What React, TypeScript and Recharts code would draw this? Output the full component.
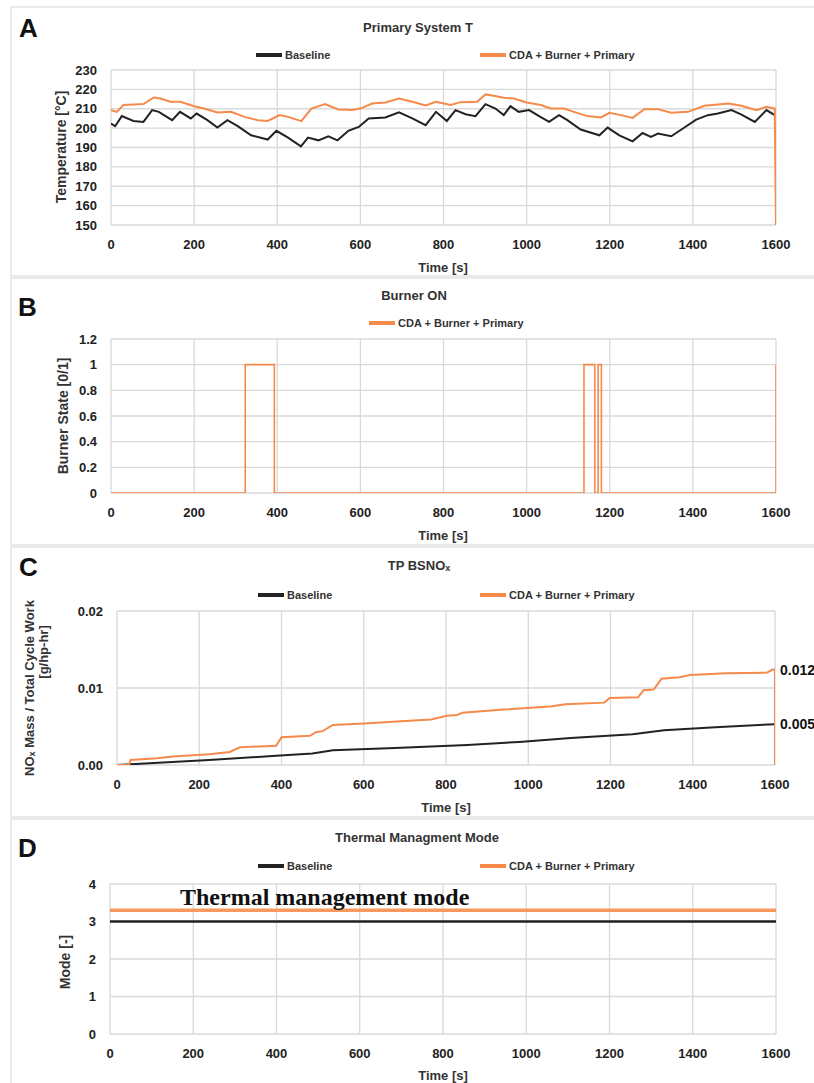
import { LineChart, Line, XAxis, YAxis, CartesianGrid, LabelList } from "recharts";

const timeTicks = [0, 200, 400, 600, 800, 1000, 1200, 1400, 1600];

// A - Primary System T  [time s, temperature °C]
const tempBaseline: [number, number][] = [
  [0, 202.4], [10, 201.0], [26, 206.2], [54, 203.7], [78, 203.2], [99, 209.3], [115, 208.4], [147, 204.1],
  [166, 208.4], [192, 205.0], [206, 207.5], [232, 204.1], [256, 200.3], [280, 204.1], [305, 201.0], [337, 196.3],
  [377, 194.1], [398, 198.6], [426, 195.1], [457, 190.6], [474, 195.1], [499, 193.7], [523, 195.8], [545, 193.7],
  [571, 198.6], [596, 200.6], [620, 205.0], [660, 205.5], [693, 208.1], [725, 205.0], [757, 201.5], [782, 208.4],
  [808, 203.7], [829, 209.3], [853, 207.2], [877, 206.2], [901, 212.4], [925, 210.1], [945, 206.7], [961, 211.3],
  [981, 208.4], [1006, 209.3], [1030, 206.2], [1054, 203.2], [1078, 206.7], [1098, 204.1], [1130, 199.3], [1175, 196.3],
  [1195, 200.3], [1223, 196.3], [1255, 193.2], [1279, 197.5], [1299, 195.5], [1316, 197.2], [1348, 195.8], [1376, 199.8],
  [1408, 204.4], [1436, 206.7], [1460, 207.5], [1493, 209.3], [1517, 207.0], [1549, 203.2], [1577, 209.3], [1597, 206.7],
];
const tempCda: [number, number][] = [
  [0, 209.3], [14, 208.4], [30, 211.9], [78, 212.4], [103, 215.8], [119, 215.3], [143, 213.6], [167, 213.6],
  [200, 211.3], [224, 210.1], [256, 208.1], [289, 208.4], [321, 205.8], [353, 204.1], [377, 203.7], [406, 206.7],
  [426, 205.8], [458, 203.6], [482, 210.1], [515, 212.4], [547, 209.6], [580, 209.3], [600, 210.1], [628, 212.7],
  [660, 213.2], [693, 215.3], [725, 213.6], [757, 211.7], [782, 213.6], [817, 211.9], [841, 213.4], [881, 213.6],
  [901, 217.4], [921, 216.7], [945, 215.7], [969, 215.3], [1000, 213.2], [1034, 211.9], [1058, 210.1], [1090, 210.1],
  [1114, 208.4], [1146, 206.2], [1179, 205.5], [1199, 207.9], [1227, 206.7], [1255, 205.3], [1283, 209.8], [1315, 209.8],
  [1348, 207.9], [1388, 208.4], [1428, 211.5], [1460, 212.2], [1485, 212.7], [1517, 211.5], [1553, 209.3], [1577, 211.0],
  [1597, 210.1], [1600, 150],
];

// B - burner state, value holds until next change
const burnerCda: [number, number][] = [
  [0, 0], [323, 1], [393, 0], [1138, 1], [1164, 0], [1172, 1], [1180, 0], [1600, 1],
];

// C - NOx mass / total cycle work [g/hp-hr]
const noxBaseline: [number, number][] = [
  [0, 0], [224, 0.00065], [387, 0.0012], [475, 0.0015], [525, 0.0019], [676, 0.0022], [852, 0.0026],
  [978, 0.003], [1103, 0.0035], [1254, 0.004], [1330, 0.0045], [1455, 0.0049], [1600, 0.0053],
];
const noxCda: [number, number][] = [
  [0, 0], [29, 0], [33, 0.00065], [98, 0.00087], [136, 0.0011], [224, 0.0014], [274, 0.0017], [299, 0.0023],
  [387, 0.0025], [400, 0.0036], [469, 0.0038], [485, 0.0043], [500, 0.0044], [525, 0.0052], [601, 0.0054],
  [701, 0.0057], [764, 0.0059], [802, 0.0064], [827, 0.0065], [840, 0.0068], [940, 0.0072], [1053, 0.0076],
  [1091, 0.0079], [1185, 0.0081], [1198, 0.0087], [1267, 0.0088], [1280, 0.0097], [1305, 0.0098], [1324, 0.0112],
  [1368, 0.0114], [1393, 0.0117], [1481, 0.0119], [1581, 0.012], [1594, 0.0124], [1600, 0.0124], [1600, 0],
];

// D - thermal management mode
const modeTime = [0, 1600];
const modeBaseline = [3, 3];
const modeCda = [3.3, 3.3];

const BLACK = "#222222";
const ORANGE = "#F58A4B";
const GRID = "#d9d9d9";
const FONT = '"Liberation Sans Narrow", "Liberation Sans", Arial, sans-serif';

const rows = (pairs: [number, number][]) => pairs.map(([t, v]) => ({ t, v }));

const tickStyle = { fill: "#222", fontSize: 13, fontWeight: 700, fontFamily: FONT };

function Plot({ top, bottom, left, right, yDomain, yTicks, yFmt, children }: any) {
  return (
    <div style={{ position: "absolute", top: top - 10, left: 0 }}>
      <LineChart width={814} height={bottom - top + 50} margin={{ top: 10, right: 814 - right, bottom: 10, left: 0 }}>
        <CartesianGrid stroke={GRID} strokeWidth={1.3} />
        <XAxis dataKey="t" type="number" domain={[0, 1600]} ticks={timeTicks} interval={0}
          axisLine={false} tickLine={false} tickMargin={9} height={30} tick={tickStyle} allowDataOverflow />
        <YAxis type="number" domain={yDomain} ticks={yTicks} interval={0} width={left}
          axisLine={false} tickLine={false} tickMargin={8} tickFormatter={yFmt} tick={tickStyle} allowDataOverflow />
        {children}
      </LineChart>
    </div>
  );
}

const endLabel = (lastIdx: number) => (p: any) =>
  p.index === lastIdx ? (
    <text x={p.x + 5} y={p.y} dominantBaseline="central" fontSize={14} fontWeight={700} fontFamily={FONT} fill="#111">
      {Number(p.value).toFixed(3)}
    </text>
  ) : null;

function LegendItem({ x, y, color, label }: any) {
  return (
    <g>
      <line x1={x} x2={x + 26} y1={y} y2={y} stroke={color} strokeWidth={4} />
      <text x={x + 29} y={y} dominantBaseline="central" fontSize={11} fontWeight={700} fill="#333">{label}</text>
    </g>
  );
}

function VText({ x, y, children, size = 13 }: any) {
  return (
    <text transform={`translate(${x},${y}) rotate(-90)`} textAnchor="middle" dominantBaseline="central"
      fontSize={size} fontWeight={700} fill="#333">{children}</text>
  );
}

export default function App() {
  const modeBase = modeTime.map((t, i) => ({ t, v: modeBaseline[i] }));
  const modeOrange = modeTime.map((t, i) => ({ t, v: modeCda[i] }));
  return (
    <div style={{ position: "absolute", left: 0, top: 0, width: 814, height: 1083, background: "#fff", overflow: "hidden", fontFamily: FONT }}>
      <Plot top={70} bottom={225} left={111} right={776} yDomain={[150, 230]}
        yTicks={[150, 160, 170, 180, 190, 200, 210, 220, 230]}>
        <Line data={rows(tempBaseline)} dataKey="v" stroke={BLACK} strokeWidth={2} dot={false} activeDot={false} isAnimationActive={false} />
        <Line data={rows(tempCda)} dataKey="v" stroke={ORANGE} strokeWidth={2} dot={false} activeDot={false} isAnimationActive={false} />
      </Plot>

      <Plot top={339} bottom={493} left={111} right={776} yDomain={[0, 1.2]}
        yTicks={[0, 0.2, 0.4, 0.6, 0.8, 1, 1.2]} yFmt={(v: number) => String(Math.round(v * 10) / 10)}>
        <Line type="stepAfter" data={rows(burnerCda)} dataKey="v" stroke={ORANGE} strokeWidth={1.6} dot={false} activeDot={false} isAnimationActive={false} />
      </Plot>

      <Plot top={611} bottom={765} left={117} right={775} yDomain={[0, 0.02]}
        yTicks={[0, 0.01, 0.02]} yFmt={(v: number) => v.toFixed(2)}>
        <Line data={rows(noxBaseline)} dataKey="v" stroke={BLACK} strokeWidth={2} dot={false} activeDot={false} isAnimationActive={false}>
          <LabelList dataKey="v" content={endLabel(noxBaseline.length - 1)} />
        </Line>
        <Line data={rows(noxCda)} dataKey="v" stroke={ORANGE} strokeWidth={2} dot={false} activeDot={false} isAnimationActive={false}>
          <LabelList dataKey="v" content={endLabel(noxCda.length - 2)} />
        </Line>
      </Plot>

      <Plot top={884} bottom={1034} left={110} right={776} yDomain={[0, 4]} yTicks={[0, 1, 2, 3, 4]}>
        <Line data={modeBase} dataKey="v" stroke={BLACK} strokeWidth={2.5} dot={false} activeDot={false} isAnimationActive={false} />
        <Line data={modeOrange} dataKey="v" stroke="#F7995F" strokeWidth={3.5} dot={false} activeDot={false} isAnimationActive={false} />
      </Plot>

      <svg width={814} height={1083} style={{ position: "absolute", left: 0, top: 0, pointerEvents: "none" }} fontFamily={FONT}>
        <g fill="none" stroke="#e4e4e4" strokeWidth={1.5}>
          <rect x={11} y={7} width={820} height={269} />
          <rect x={11} y={278} width={820} height={267} />
          <rect x={11} y={547} width={820} height={270} />
          <rect x={11} y={819} width={820} height={280} />
        </g>

        <g fontFamily="Liberation Sans, Arial, sans-serif" fontWeight={700} fontSize={26} fill="#111">
          <text x={19} y={28} dominantBaseline="central">A</text>
          <text x={18} y={307} dominantBaseline="central">B</text>
          <text x={19} y={567} dominantBaseline="central">C</text>
          <text x={18} y={848} dominantBaseline="central">D</text>
        </g>

        <g fontSize={13} fontWeight={700} fill="#333" textAnchor="middle">
          <text x={418} y={27} dominantBaseline="central">Primary System T</text>
          <text x={414} y={295} dominantBaseline="central">Burner ON</text>
          <text x={419} y={565} dominantBaseline="central">TP BSNO<tspan fontSize={9} dy={3}>x</tspan></text>
          <text x={417} y={837} dominantBaseline="central">Thermal Managment Mode</text>
        </g>

        <LegendItem x={256} y={55} color={BLACK} label="Baseline" />
        <LegendItem x={480} y={55} color={ORANGE} label="CDA + Burner + Primary" />
        <LegendItem x={369} y={323} color={ORANGE} label="CDA + Burner + Primary" />
        <LegendItem x={258} y={595} color={BLACK} label="Baseline" />
        <LegendItem x={480} y={595} color={ORANGE} label="CDA + Burner + Primary" />
        <LegendItem x={258} y={866} color={BLACK} label="Baseline" />
        <LegendItem x={480} y={866} color={ORANGE} label="CDA + Burner + Primary" />

        <g fontSize={13} fontWeight={700} fill="#333" textAnchor="middle">
          <text x={443} y={267} dominantBaseline="central">Time [s]</text>
          <text x={443} y={535} dominantBaseline="central">Time [s]</text>
          <text x={446} y={807} dominantBaseline="central">Time [s]</text>
          <text x={443} y={1075} dominantBaseline="central">Time [s]</text>
        </g>

        <VText x={61} y={147} size={14}>Temperature [°C]</VText>
        <VText x={63} y={416} size={14}>Burner State [0/1]</VText>
        <VText x={29} y={688}>NO<tspan fontSize={9} dy={3}>x</tspan><tspan dy={-3}> Mass / Total Cycle Work</tspan></VText>
        <VText x={43} y={652}>[g/hp-hr]</VText>
        <VText x={65} y={962} size={14}>Mode [-]</VText>

        <text x={180} y={905} fontFamily='"Liberation Serif", "Times New Roman", serif' fontWeight={700} fontSize={24} fill="#111">
          Thermal management mode
        </text>
      </svg>
    </div>
  );
}
